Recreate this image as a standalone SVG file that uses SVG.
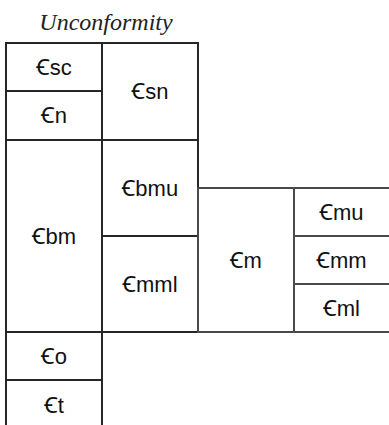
<svg xmlns="http://www.w3.org/2000/svg" width="389" height="425" viewBox="0 0 389 425">
  <style>
    .cell { fill: none; stroke: #262626; stroke-width: 2; }
    .cell-r { fill: none; stroke: #4a4a4a; stroke-width: 2; }
    .lbl { font-family: "Liberation Sans", Arial, "Noto Sans", "DejaVu Sans", sans-serif; font-size: 22px; fill: #111; text-anchor: middle; }
    .title { font-family: "Liberation Serif", "Times New Roman", serif; font-style: italic; font-size: 24px; fill: #222; text-anchor: middle; }
  </style>
  <rect width="389" height="425" fill="#ffffff"/>

  <text class="title" x="106" y="30">Unconformity</text>

  <!-- left column -->
  <g id="csc"><rect class="cell" x="6" y="43" width="96" height="48"/><text class="lbl" x="54" y="74.5">Ꞓsc</text></g>
  <g id="cn"><rect class="cell" x="6" y="91" width="96" height="49"/><text class="lbl" x="54" y="123">Ꞓn</text></g>
  <g id="cbm"><rect class="cell" x="6" y="140" width="96" height="192"/><text class="lbl" x="54" y="244">Ꞓbm</text></g>
  <g id="co"><rect class="cell" x="6" y="332" width="96" height="48"/><text class="lbl" x="54" y="364">Ꞓo</text></g>
  <g id="ct"><rect class="cell" x="6" y="380" width="96" height="60"/><text class="lbl" x="54" y="413">Ꞓt</text></g>

  <!-- second column -->
  <g id="csn"><rect class="cell" x="102" y="43" width="96" height="97"/><text class="lbl" x="150" y="99">Ꞓsn</text></g>
  <g id="cbmu"><rect class="cell" x="102" y="140" width="96" height="96"/><text class="lbl" x="150" y="195.5">Ꞓbmu</text></g>
  <g id="cmml"><rect class="cell" x="102" y="236" width="96" height="96"/><text class="lbl" x="150" y="291.5">Ꞓmml</text></g>

  <!-- third column -->
  <g id="cm"><rect class="cell-r" x="198" y="188" width="96" height="144"/><text class="lbl" x="246" y="267.5">Ꞓm</text></g>

  <!-- right column, open to the right -->
  <g id="cmu"><rect class="cell-r" x="294" y="188" width="110" height="48"/><text class="lbl" x="341.5" y="220">Ꞓmu</text></g>
  <g id="cmm"><rect class="cell-r" x="294" y="236" width="110" height="48"/><text class="lbl" x="341.5" y="268">Ꞓmm</text></g>
  <g id="cml"><rect class="cell-r" x="294" y="284" width="110" height="48"/><text class="lbl" x="341.5" y="316">Ꞓml</text></g>

  <g id="connectors"/>
</svg>
